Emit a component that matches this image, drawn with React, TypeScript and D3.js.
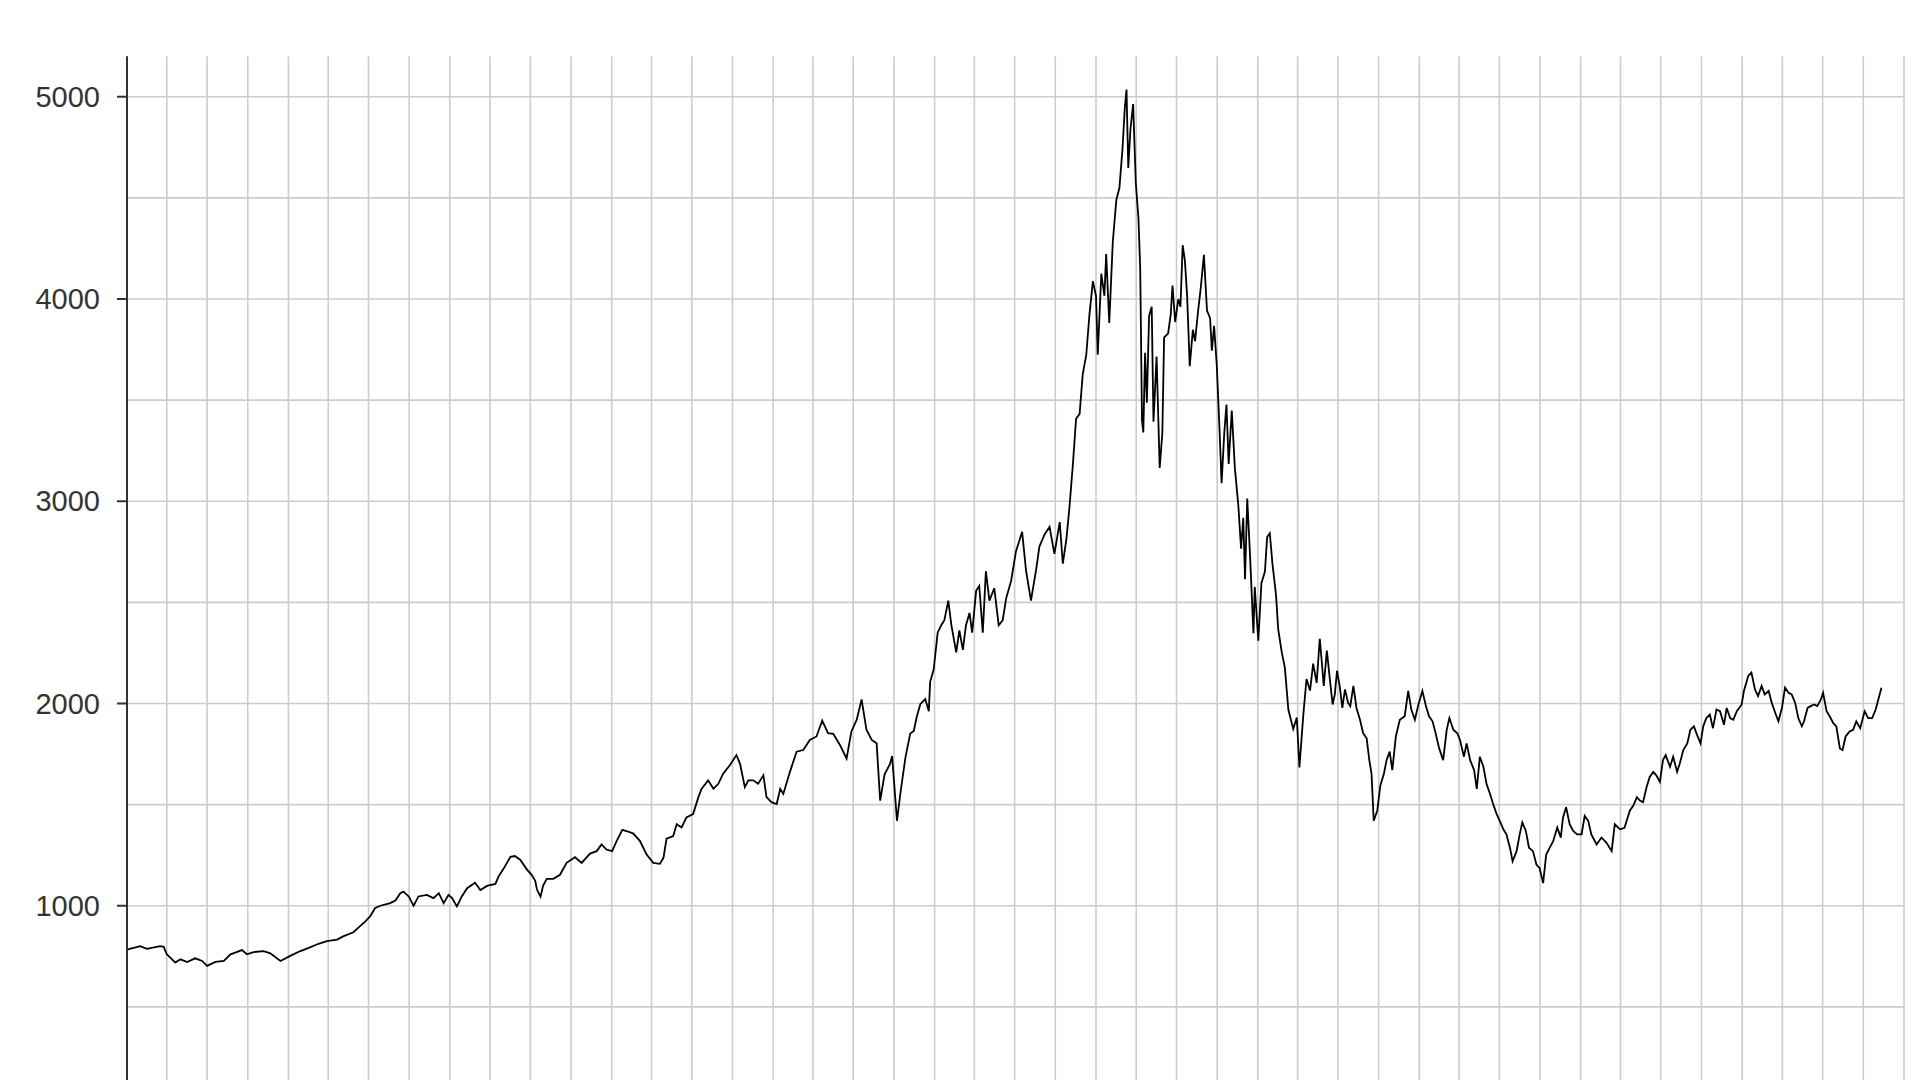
import React from "react";
import * as d3 from "d3";

type Pt = [string, number];

const y1994: Pt[] = [
  ["1994-01-03", 784], ["1994-01-31", 800], ["1994-02-15", 787], ["1994-03-17", 800], ["1994-03-25", 797],
  ["1994-04-01", 760], ["1994-04-09", 743], ["1994-04-20", 719], ["1994-05-02", 735], ["1994-05-17", 722],
  ["1994-06-04", 740], ["1994-06-20", 727], ["1994-07-01", 703], ["1994-07-20", 722], ["1994-08-08", 727],
  ["1994-08-23", 760], ["1994-09-18", 781], ["1994-09-29", 760], ["1994-10-14", 771], ["1994-11-06", 776],
  ["1994-11-21", 765], ["1994-12-14", 727],
];
const y1995: Pt[] = [
  ["1995-01-05", 752], ["1995-01-28", 776], ["1995-02-16", 792], ["1995-03-10", 812], ["1995-03-29", 825],
  ["1995-04-21", 833], ["1995-05-06", 850], ["1995-05-28", 869], ["1995-06-12", 899], ["1995-06-24", 923],
  ["1995-07-05", 948], ["1995-07-16", 989], ["1995-07-28", 1000], ["1995-08-19", 1013], ["1995-08-31", 1026],
  ["1995-09-11", 1062], ["1995-09-18", 1070], ["1995-09-30", 1046], ["1995-10-11", 1000], ["1995-10-22", 1046],
  ["1995-11-10", 1054], ["1995-11-25", 1038], ["1995-12-07", 1062], ["1995-12-18", 1013], ["1995-12-29", 1054],
];
const y1996: Pt[] = [
  ["1996-01-06", 1038], ["1996-01-17", 997], ["1996-01-28", 1046], ["1996-02-09", 1087], ["1996-02-27", 1114],
  ["1996-03-10", 1078], ["1996-03-25", 1098], ["1996-04-13", 1108], ["1996-04-20", 1144], ["1996-05-02", 1185],
  ["1996-05-17", 1242], ["1996-05-27", 1246], ["1996-06-08", 1228], ["1996-06-23", 1180], ["1996-07-04", 1153],
  ["1996-07-12", 1123], ["1996-07-16", 1080], ["1996-07-24", 1045], ["1996-07-30", 1100], ["1996-08-07", 1133],
  ["1996-08-22", 1133], ["1996-09-06", 1153], ["1996-09-21", 1212], ["1996-10-10", 1240], ["1996-10-25", 1212],
  ["1996-11-13", 1258], ["1996-11-28", 1270], ["1996-12-09", 1303], ["1996-12-20", 1278],
];
const y1997: Pt[] = [
  ["1997-01-02", 1270], ["1997-01-12", 1320], ["1997-01-25", 1375], ["1997-02-07", 1367], ["1997-02-19", 1357],
  ["1997-03-06", 1320], ["1997-03-21", 1253], ["1997-04-05", 1212], ["1997-04-20", 1207], ["1997-04-28", 1237],
  ["1997-05-05", 1332], ["1997-05-20", 1345], ["1997-05-28", 1403], ["1997-06-08", 1387], ["1997-06-19", 1437],
  ["1997-07-04", 1453], ["1997-07-16", 1537], ["1997-07-23", 1578], ["1997-08-07", 1620], ["1997-08-19", 1578],
  ["1997-08-30", 1603], ["1997-09-10", 1653], ["1997-09-25", 1695], ["1997-10-10", 1745], ["1997-10-18", 1703],
  ["1997-10-29", 1587], ["1997-11-06", 1620], ["1997-11-17", 1620], ["1997-11-28", 1603], ["1997-12-10", 1645],
  ["1997-12-17", 1537], ["1997-12-28", 1512],
];
const y1998: Pt[] = [
  ["1998-01-09", 1503], ["1998-01-17", 1578], ["1998-01-24", 1553], ["1998-02-08", 1662], ["1998-02-23", 1762],
  ["1998-03-10", 1770], ["1998-03-25", 1820], ["1998-04-09", 1837], ["1998-04-22", 1915], ["1998-05-05", 1853],
  ["1998-05-17", 1850], ["1998-06-01", 1795], ["1998-06-16", 1728], ["1998-06-27", 1862], ["1998-07-09", 1920],
  ["1998-07-20", 2020], ["1998-07-31", 1870], ["1998-08-12", 1820], ["1998-08-23", 1803], ["1998-08-31", 1520],
  ["1998-09-10", 1650], ["1998-09-22", 1700], ["1998-09-27", 1740], ["1998-10-08", 1420], ["1998-10-16", 1560],
  ["1998-10-27", 1731], ["1998-11-07", 1852], ["1998-11-15", 1864], ["1998-11-22", 1937], ["1998-11-30", 1998],
  ["1998-12-11", 2022], ["1998-12-19", 1962], ["1998-12-22", 2107], ["1998-12-30", 2168],
];
const y1999: Pt[] = [
  ["1999-01-08", 2350], ["1999-01-16", 2387], ["1999-01-23", 2411], ["1999-02-01", 2509], ["1999-02-08", 2387],
  ["1999-02-19", 2253], ["1999-02-26", 2362], ["1999-03-06", 2265], ["1999-03-13", 2387], ["1999-03-21", 2448],
  ["1999-03-27", 2350], ["1999-04-05", 2557], ["1999-04-12", 2581], ["1999-04-20", 2350], ["1999-04-27", 2654],
  ["1999-05-05", 2509], ["1999-05-16", 2570], ["1999-05-26", 2387], ["1999-06-04", 2411], ["1999-06-12", 2521],
  ["1999-06-23", 2606], ["1999-07-04", 2752], ["1999-07-18", 2849], ["1999-07-27", 2654], ["1999-08-07", 2509],
  ["1999-08-19", 2667], ["1999-08-26", 2776], ["1999-09-07", 2837], ["1999-09-18", 2873], ["1999-09-29", 2740],
  ["1999-10-11", 2897], ["1999-10-18", 2691], ["1999-10-26", 2812], ["1999-11-02", 2970], ["1999-11-10", 3189],
  ["1999-11-17", 3408], ["1999-11-25", 3432], ["1999-12-02", 3627], ["1999-12-10", 3724], ["1999-12-17", 3918],
  ["1999-12-25", 4088],
];
const y2000: Pt[] = [
  ["2000-01-01", 4016], ["2000-01-05", 3724], ["2000-01-13", 4125], ["2000-01-20", 4016], ["2000-01-24", 4222],
  ["2000-01-31", 3882], ["2000-02-08", 4283], ["2000-02-16", 4490], ["2000-02-23", 4550], ["2000-03-01", 4745],
  ["2000-03-06", 4939], ["2000-03-10", 5036], ["2000-03-14", 4648], ["2000-03-19", 4842], ["2000-03-25", 4964],
  ["2000-03-31", 4575], ["2000-04-06", 4400], ["2000-04-10", 4150], ["2000-04-14", 3400], ["2000-04-17", 3340],
  ["2000-04-21", 3734], ["2000-04-25", 3487], ["2000-04-30", 3915], ["2000-05-06", 3962], ["2000-05-10", 3393],
  ["2000-05-17", 3715], ["2000-05-24", 3165], ["2000-05-30", 3336], ["2000-06-03", 3810], ["2000-06-12", 3829],
  ["2000-06-18", 3924], ["2000-06-22", 4066], ["2000-06-28", 3886], ["2000-07-05", 4000], ["2000-07-10", 3962],
  ["2000-07-15", 4266], ["2000-07-20", 4190], ["2000-07-25", 4019], ["2000-07-31", 3668], ["2000-08-07", 3848],
  ["2000-08-12", 3791], ["2000-08-19", 3943], ["2000-08-25", 4057], ["2000-09-01", 4218], ["2000-09-08", 3943],
  ["2000-09-15", 3905], ["2000-09-19", 3744], ["2000-09-24", 3867], ["2000-09-30", 3677], ["2000-10-06", 3374],
  ["2000-10-11", 3089], ["2000-10-17", 3336], ["2000-10-22", 3478], ["2000-10-27", 3184], ["2000-11-03", 3449],
  ["2000-11-10", 3165], ["2000-11-18", 2975], ["2000-11-24", 2766], ["2000-11-29", 2918], ["2000-12-03", 2614],
  ["2000-12-08", 3013], ["2000-12-14", 2747], ["2000-12-22", 2348], ["2000-12-25", 2576],
];
const y2001: Pt[] = [
  ["2001-01-02", 2310], ["2001-01-09", 2595], ["2001-01-17", 2652], ["2001-01-22", 2823], ["2001-01-28", 2842],
  ["2001-02-03", 2690], ["2001-02-11", 2538], ["2001-02-16", 2368], ["2001-02-24", 2254], ["2001-03-03", 2178],
  ["2001-03-11", 1969], ["2001-03-22", 1874], ["2001-03-30", 1931], ["2001-04-05", 1684], ["2001-04-14", 1950],
  ["2001-04-21", 2121], ["2001-04-29", 2064], ["2001-05-06", 2197], ["2001-05-14", 2102], ["2001-05-21", 2320],
  ["2001-05-25", 2220], ["2001-05-30", 2087], ["2001-06-06", 2262], ["2001-06-12", 2137], ["2001-06-19", 1995],
  ["2001-06-24", 2045], ["2001-06-29", 2162], ["2001-07-05", 2087], ["2001-07-11", 1978], ["2001-07-17", 2070],
  ["2001-07-24", 2003], ["2001-07-29", 1987], ["2001-08-05", 2087], ["2001-08-12", 1978], ["2001-08-20", 1920],
  ["2001-08-27", 1853], ["2001-09-04", 1828], ["2001-09-10", 1720], ["2001-09-15", 1653], ["2001-09-20", 1420],
  ["2001-09-28", 1470], ["2001-10-05", 1595], ["2001-10-13", 1653], ["2001-10-19", 1720], ["2001-10-26", 1762],
  ["2001-11-01", 1670], ["2001-11-09", 1837], ["2001-11-18", 1920], ["2001-11-29", 1937], ["2001-12-07", 2062],
  ["2001-12-14", 1970], ["2001-12-22", 1920], ["2001-12-30", 1995],
];
const y2002: Pt[] = [
  ["2002-01-08", 2062], ["2002-01-16", 1987], ["2002-01-23", 1937], ["2002-01-31", 1912], ["2002-02-07", 1853],
  ["2002-02-15", 1778], ["2002-02-24", 1720], ["2002-03-04", 1870], ["2002-03-10", 1928], ["2002-03-19", 1870],
  ["2002-03-28", 1853], ["2002-04-03", 1820], ["2002-04-12", 1737], ["2002-04-18", 1803], ["2002-04-26", 1720],
  ["2002-05-05", 1670], ["2002-05-11", 1578], ["2002-05-18", 1737], ["2002-05-26", 1687], ["2002-06-02", 1603],
  ["2002-06-10", 1553], ["2002-06-17", 1503], ["2002-06-25", 1453], ["2002-07-02", 1420], ["2002-07-10", 1378],
  ["2002-07-17", 1353], ["2002-07-25", 1287], ["2002-07-31", 1220], ["2002-08-09", 1270], ["2002-08-16", 1353],
  ["2002-08-22", 1412], ["2002-08-30", 1370], ["2002-09-06", 1287], ["2002-09-15", 1270], ["2002-09-23", 1203],
  ["2002-09-30", 1187], ["2002-10-08", 1112], ["2002-10-15", 1253], ["2002-10-23", 1287], ["2002-10-31", 1320],
  ["2002-11-09", 1387], ["2002-11-17", 1337], ["2002-11-22", 1437], ["2002-11-29", 1487], ["2002-12-07", 1403],
  ["2002-12-15", 1370], ["2002-12-24", 1353],
];
const y2003: Pt[] = [
  ["2003-01-03", 1353], ["2003-01-10", 1445], ["2003-01-18", 1420], ["2003-01-25", 1353], ["2003-02-06", 1303],
  ["2003-02-17", 1337], ["2003-02-28", 1312], ["2003-03-12", 1270], ["2003-03-19", 1403], ["2003-03-31", 1378],
  ["2003-04-10", 1385], ["2003-04-22", 1470], ["2003-04-30", 1495], ["2003-05-08", 1537], ["2003-05-15", 1520],
  ["2003-05-22", 1512], ["2003-05-30", 1587], ["2003-06-06", 1637], ["2003-06-14", 1662], ["2003-06-21", 1645],
  ["2003-06-29", 1612], ["2003-07-06", 1720], ["2003-07-12", 1745], ["2003-07-22", 1687], ["2003-07-29", 1737],
  ["2003-08-07", 1662], ["2003-08-13", 1703], ["2003-08-21", 1770], ["2003-08-30", 1803], ["2003-09-06", 1870],
  ["2003-09-14", 1887], ["2003-09-21", 1845], ["2003-09-29", 1803], ["2003-10-05", 1887], ["2003-10-12", 1928],
  ["2003-10-20", 1945], ["2003-10-27", 1878], ["2003-11-04", 1970], ["2003-11-12", 1962], ["2003-11-21", 1895],
  ["2003-11-27", 1978], ["2003-12-05", 1928], ["2003-12-12", 1920], ["2003-12-20", 1962], ["2003-12-31", 1995],
];
const y2004: Pt[] = [
  ["2004-01-05", 2062], ["2004-01-15", 2137], ["2004-01-22", 2153], ["2004-01-30", 2070], ["2004-02-06", 2037],
  ["2004-02-14", 2087], ["2004-02-21", 2045], ["2004-03-01", 2062], ["2004-03-08", 2003], ["2004-03-16", 1953],
  ["2004-03-23", 1912], ["2004-03-31", 1978], ["2004-04-07", 2078], ["2004-04-15", 2053], ["2004-04-22", 2045],
  ["2004-04-30", 2003], ["2004-05-07", 1928], ["2004-05-15", 1887], ["2004-05-20", 1912], ["2004-05-28", 1978],
  ["2004-06-04", 1987], ["2004-06-12", 1995], ["2004-06-19", 1987], ["2004-06-27", 2020], ["2004-07-02", 2053],
  ["2004-07-10", 1962], ["2004-07-17", 1937], ["2004-07-25", 1903], ["2004-08-01", 1887], ["2004-08-09", 1778],
  ["2004-08-15", 1770], ["2004-08-22", 1837], ["2004-08-31", 1862], ["2004-09-08", 1870], ["2004-09-15", 1912],
  ["2004-09-24", 1878], ["2004-10-04", 1962], ["2004-10-12", 1928], ["2004-10-21", 1928], ["2004-10-29", 1970],
  ["2004-11-05", 2028], ["2004-11-11", 2078],
];

const yTickValues = [1000, 2000, 3000, 4000, 5000];
const yGridValues = [500, 1000, 1500, 2000, 2500, 3000, 3500, 4000, 4500, 5000];
const xDomain: [string, string] = ["1994-01-01", "2005-01-01"];
const yDomain: [number, number] = [0, 5200];

const parse = d3.timeParse("%Y-%m-%d");

export default function App() {
  const W = 1920;
  const H = 1080;
  const left = 127;
  const right = 1904;
  const top = 56.3;
  const bottom = 1108;

  const data = [
    ...y1994, ...y1995, ...y1996, ...y1997, ...y1998, ...y1999,
    ...y2000, ...y2001, ...y2002, ...y2003, ...y2004,
  ].map(([d, v]) => ({ date: parse(d) as Date, value: v }));

  const x = d3.scaleTime().domain(xDomain.map((d) => parse(d) as Date)).range([left, right]);
  const y = d3.scaleLinear().domain(yDomain).range([bottom, top]);

  const quarterTicks = d3.timeMonth.every(3)!.range(parse(xDomain[0]) as Date, d3.timeDay.offset(parse(xDomain[1]) as Date, 1));

  const line = d3
    .line<{ date: Date; value: number }>()
    .x((d) => x(d.date))
    .y((d) => y(d.value));

  const grid = "#cccccc";

  return (
    <svg
      width={W}
      height={H}
      style={{ position: "absolute", left: 0, top: 0, background: "#fff" }}
    >
      <rect x={0} y={0} width={W} height={H} fill="#fff" />
      <g>
        {quarterTicks.map((t, i) => (
          <line key={"v" + i} x1={x(t)} x2={x(t)} y1={top} y2={bottom} stroke={grid} strokeWidth={1.6} />
        ))}
        {yGridValues.map((v) => (
          <line key={"h" + v} x1={left} x2={right} y1={y(v)} y2={y(v)} stroke={grid} strokeWidth={1.6} />
        ))}
      </g>
      <path d={line(data) || ""} fill="none" stroke="#000" strokeWidth={1.8} strokeLinejoin="miter" />
      <g>
        <line x1={left} x2={left} y1={top} y2={bottom} stroke="#333" strokeWidth={2} />
        {yTickValues.map((v) => (
          <g key={"t" + v} transform={`translate(0,${y(v)})`}>
            <line x1={left - 10} x2={left} y1={0} y2={0} stroke="#333" strokeWidth={2} />
            <text
              x={100}
              y={0}
              dy="0.35em"
              textAnchor="end"
              fontFamily="'Liberation Sans', Arial, sans-serif"
              fontSize={29}
              fill="#333"
            >
              {v}
            </text>
          </g>
        ))}
      </g>
    </svg>
  );
}
